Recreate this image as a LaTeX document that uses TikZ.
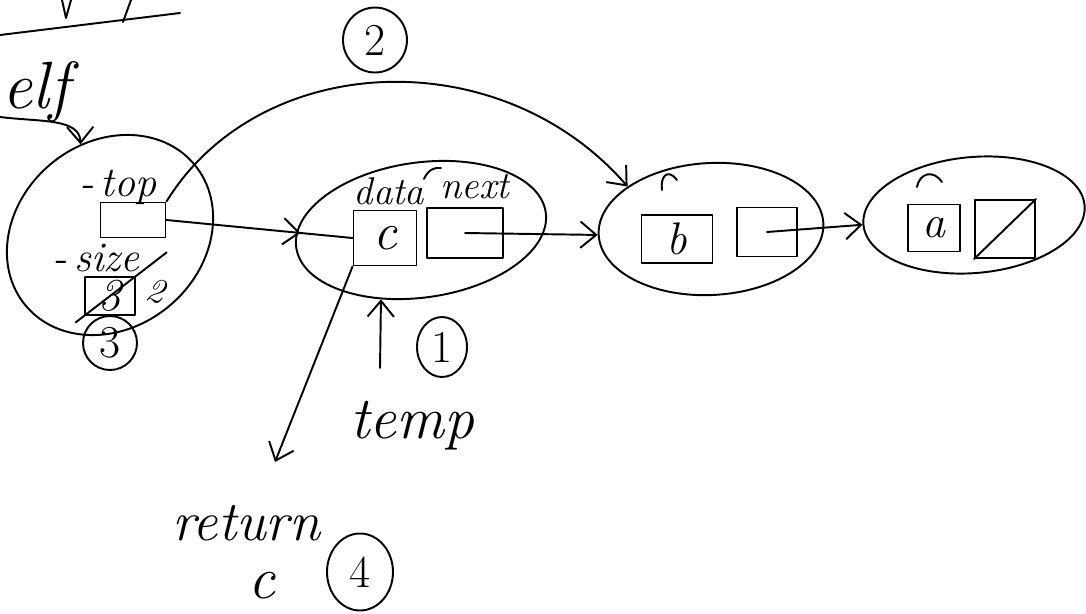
\documentclass[tikz,border=0pt]{standalone}
\usetikzlibrary{shapes.geometric,arrows.meta,decorations.markings}
\begin{document}
\begin{tikzpicture}[x=0.02cm,y=-0.02cm,
  ink/.style={line width=1.1pt,black,line cap=round,line join=round},
  blob/.style={ellipse,draw,ink,inner sep=0pt},
  cell/.style={rectangle,draw,ink,inner sep=0pt},
  ring/.style={ellipse,draw,ink,inner sep=0pt,font=\fontsize{26}{28}\selectfont},
  hand/.style={font=\itshape\fontsize{#1}{#1}\selectfont,inner sep=0pt},
  barb/.tip={Straight Barb[length=9pt,width=15pt,line width=1.1pt]},
  ptr/.style={ink,-barb},
  midbarb/.style={decoration={markings,mark=at position #1 with {\arrow{barb}}},postaction={decorate}}]
\useasboundingbox (0,0) rectangle (1086,613);
\clip (0,0) rectangle (1086,613);

% remains of the heading at the top left
\draw[ink] (0,35) -- (180,13);
\draw[ink] (62,0) -- (66,18) -- (71,0);
\draw[ink] (131,0) -- (123,22);
\node[hand=38,anchor=base west] (selfword) at (2,108) {elf};

% the stack object
\node[blob,minimum width=4.4cm,minimum height=3.7cm,rotate=40] (self) at (110,235) {};
\node[hand=24] (toplbl) at (118,187) {-\,top};
\node[cell,minimum width=1.3cm,minimum height=0.7cm] (topbox) at (133,220) {};
\node[hand=24] (sizelbl) at (96,258) {-\,size};
\node[cell,minimum width=1.0cm,minimum height=0.76cm,hand=26] (sizebox) at (110,296) {3};
\draw[ink,shorten <=-22pt,shorten >=-6pt] (sizebox.north east) -- (sizebox.south west);
\node[hand=20,rotate=-15] (newsize) at (156,291) {2};
\node[ring,minimum width=1.08cm,minimum height=1.08cm] (c3) at (110,343) {3};

% list node holding c
\node[blob,minimum width=5.04cm,minimum height=2.7cm,rotate=8] (nc) at (421,230) {};
\node[hand=22,anchor=base] (datalbl) at (389,204) {data};
\node[hand=22,anchor=base] (nextlbl) at (475,198) {next};
\node[cell,minimum width=1.26cm,minimum height=1.1cm,hand=30] (cdata) at (385,238) {c};
\node[cell,minimum width=1.52cm,minimum height=1.0cm] (cnext) at (465,233) {};

% list node holding b
\node[blob,minimum width=4.5cm,minimum height=2.64cm,rotate=3] (nb) at (711,229) {};
\node[cell,minimum width=1.42cm,minimum height=0.96cm,hand=26] (bdata) at (677,239) {b};
\node[cell,minimum width=1.2cm,minimum height=0.98cm] (bnext) at (767,232) {};

% list node holding a
\node[blob,minimum width=4.44cm,minimum height=2.32cm,rotate=5] (na) at (974,215) {};
\node[cell,minimum width=1.04cm,minimum height=0.94cm,hand=26] (adata) at (934,228) {a};
\node[cell,minimum width=1.2cm,minimum height=1.16cm] (anext) at (1005,229) {};
\draw[ink] (anext.south west) -- (anext.north east);

% little head marks on the list nodes
\draw[ink] (424,179) .. controls (428,170) and (434,167) .. (441,168);
\draw[ink] (662,190) .. controls (660,176) and (668,168) .. (677,180);
\draw[ink] (917,187) .. controls (920,172) and (934,170) .. (942,182);

% links
\coordinate (entry) at (0,117);
\draw[ptr] (entry) .. controls (40,122) and (80,118) .. (self.68);
\draw[ink,midbarb=0.72] (topbox.east) -- (cdata.west);
\draw[ptr] (cnext.center) -- (nb.west);
\draw[ptr] (bnext.center) -- (na.west);
\draw[ptr] (topbox.north east) .. controls (260,50) and (500,40) .. (nb.150);
\node[ring,minimum width=1.28cm,minimum height=1.3cm] (c2) at (375,40) {2};

% temp pointer
\coordinate (temptail) at (380,368);
\draw[ptr] (temptail) -- (nc.232);
\node[ring,minimum width=1.0cm,minimum height=1.2cm] (c1) at (442,347) {1};
\node[hand=34,anchor=base] (templbl) at (412,438) {temp};

% returned value
\coordinate (rettip) at (275,462);
\draw[ptr] (cdata.south west) -- (rettip);
\node[hand=32,anchor=base west] (retlbl) at (172,540) {return};
\node[hand=34,anchor=base] (retc) at (262,598) {c};
\node[ring,minimum width=1.32cm,minimum height=1.54cm] (c4) at (360,572) {4};
\end{tikzpicture}
\end{document}
